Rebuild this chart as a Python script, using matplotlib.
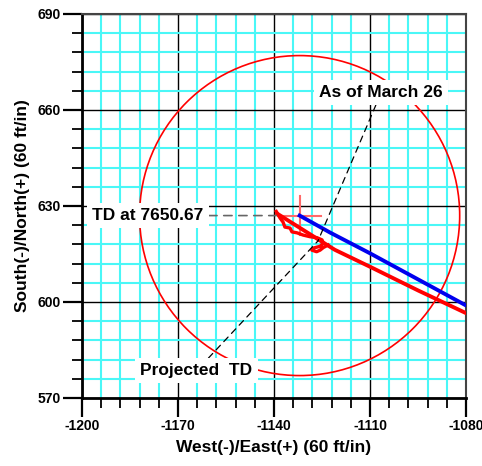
import matplotlib
matplotlib.use('Agg')
import matplotlib.pyplot as plt
from matplotlib.patches import Circle
from matplotlib.ticker import MultipleLocator

plt.rcParams['font.family'] = ['Liberation Sans', 'DejaVu Sans']
plt.rcParams['font.weight'] = 'bold'
plt.rcParams['axes.unicode_minus'] = False

# target / TD location and tolerance circle
td_x, td_y = -1132.0, 627.0
circle_radius = 50.0

# axis ticks
x_ticks = [-1200, -1170, -1140, -1110, -1080]
y_ticks = [570, 600, 630, 660, 690]

# planned path (blue)
plan_x = [-1132.0, -1122.5, -1110.0, -1080.0, -1076.0]
plan_y = [627.0, 621.7, 615.2, 598.9, 596.8]

# actual path (red), main run
actual_x = [-1139.0, -1121.0, -1110.0, -1095.0, -1080.0, -1076.0]
actual_y = [627.6, 616.3, 611.0, 603.6, 596.5, 594.6]

# actual path (red), wiggle near the bottom of the hole
wiggle_x = [-1139.3, -1138.1, -1137.2, -1136.6, -1135.0, -1134.4, -1132.8, -1130.9,
            -1128.8, -1126.6, -1125.0, -1124.6, -1125.6, -1127.5, -1128.2, -1126.7,
            -1125.6, -1124.6, -1123.1]
wiggle_y = [628.3, 626.2, 625.0, 623.4, 623.1, 621.9, 621.6, 620.9,
            620.4, 620.1, 619.4, 618.4, 617.4, 616.9, 616.2, 615.7,
            616.2, 617.0, 617.8]

# annotations
march_point = (-1126.25, 619.1)
td_label = 'TD at 7650.67'
td_label_pos = (-1179.4, 627.0)
march_label = 'As of March 26'
march_label_pos = (-1106.5, 665.5)
proj_label = 'Projected  TD'
proj_label_pos = (-1164.2, 578.5)

fig = plt.figure(figsize=(4.82, 4.66), dpi=100)
ax = fig.add_axes([0.170, 0.146, 0.797, 0.824])

ax.set_xlim(-1200, -1080)
ax.set_ylim(570, 690)
ax.set_xticks(x_ticks, [str(t) for t in x_ticks], fontsize=10, fontweight='bold')
ax.set_yticks(y_ticks, [str(t) for t in y_ticks], fontsize=10, fontweight='bold')
ax.xaxis.set_minor_locator(MultipleLocator(6))
ax.yaxis.set_minor_locator(MultipleLocator(6))
ax.set_axisbelow(True)
ax.grid(which='minor', color='#4af7f7', lw=1.5)
ax.grid(which='major', color='black', lw=1.0)

ax.tick_params(which='major', length=13.5, width=1.6, pad=2)
ax.tick_params(which='minor', length=7, width=1.3)
for side in ['left', 'bottom']:
    ax.spines[side].set_linewidth(2.0)
    ax.spines[side].set_color('black')
for side in ['top', 'right']:
    ax.spines[side].set_linewidth(1.5)
    ax.spines[side].set_color('#444444')

ax.set_xlabel('West(-)/East(+) (60 ft/in)', fontsize=12.5, fontweight='bold', labelpad=5)
ax.set_ylabel('South(-)/North(+) (60 ft/in)', fontsize=12.5, fontweight='bold', labelpad=5)

ax.add_patch(Circle((td_x, td_y), circle_radius, fill=False, ec='red', lw=1.2, zorder=3))

# crosshair at target
ax.plot([td_x - 6.6, td_x + 6.6], [td_y, td_y], color='#ff6a6a', lw=1.5, zorder=3)
ax.plot([td_x, td_x], [td_y - 6, td_y + 6], color='#ff6a6a', lw=1.5, zorder=3)

ax.plot(plan_x, plan_y, color='#0000ee', lw=2.8, zorder=4, clip_on=True)
ax.plot(actual_x, actual_y, color='red', lw=2.8, zorder=4, clip_on=True)
ax.plot(wiggle_x, wiggle_y, color='red', lw=2.4, zorder=4, solid_joinstyle='round')

box = dict(boxstyle='square,pad=0.3', fc='white', ec='none')
ax.annotate(td_label, xy=(-1139.3, td_y), xytext=td_label_pos, fontsize=12.5, fontweight='bold',
            ha='center', va='center', bbox=box, zorder=6,
            arrowprops=dict(arrowstyle='-', color='#666666', ls=(0, (5, 4)), lw=1.2,
                            shrinkA=0, shrinkB=0))
ax.annotate(march_label, xy=march_point, xytext=march_label_pos, fontsize=12.5, fontweight='bold',
            ha='center', va='center', bbox=box, zorder=6,
            arrowprops=dict(arrowstyle='-', color='black', ls=(0, (5, 4)), lw=0.9,
                            shrinkA=0, shrinkB=0))
ax.annotate(proj_label, xy=march_point, xytext=proj_label_pos, fontsize=12.5, fontweight='bold',
            ha='center', va='center', bbox=box, zorder=6,
            arrowprops=dict(arrowstyle='-', color='black', ls=(0, (5, 4)), lw=0.9,
                            shrinkA=0, shrinkB=0))

fig.savefig('out.png', dpi=100)
plt.close(fig)
